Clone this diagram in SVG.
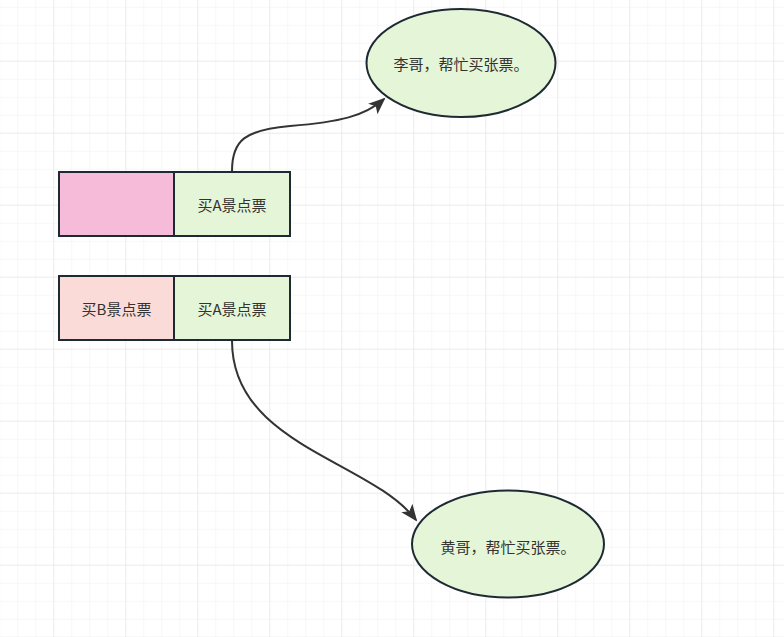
<svg xmlns="http://www.w3.org/2000/svg" width="784" height="637" viewBox="0 0 784 637">
<defs>
<pattern id="minor" x="17.3" y="6.7" width="18" height="18" patternUnits="userSpaceOnUse">
<path d="M0 0 V18 M0 0 H18" fill="none" stroke="#efefef" stroke-width="1"/>
</pattern>
<pattern id="major" x="53.3" y="60.7" width="72" height="72" patternUnits="userSpaceOnUse">
<path d="M0 0 V72 M0 0 H72" fill="none" stroke="#e2e2e2" stroke-width="1"/>
</pattern>
<marker id="arr" markerUnits="userSpaceOnUse" markerWidth="18" markerHeight="14" refX="15" refY="7" orient="auto" viewBox="0 0 18 14">
<path d="M0 0 L17 7 L0 14 L4 7 Z" fill="#333333"/>
</marker>
<style>
.box{stroke:#1e2a33;stroke-width:2}
.t{font-family:"Noto Sans CJK SC","Noto Sans",sans-serif;font-size:15px;fill:#333333;text-anchor:middle;dominant-baseline:central}
.edge{fill:none;stroke:#333333;stroke-width:2}
</style>
</defs>
<rect width="784" height="637" fill="#ffffff"/>
<rect width="784" height="637" fill="url(#minor)"/>
<rect width="784" height="637" fill="url(#major)"/>
<g id="connectors">
<path class="edge" d="M232 171 C232 140 245 130 290 126 C340 122 365 116 384 99" marker-end="url(#arr)"/>
<path class="edge" d="M232 341 C232 445 370 460 416 520" marker-end="url(#arr)"/>
</g>
<g id="node-pink">
<rect class="box" x="59" y="172" width="115" height="64" fill="#f5bbd9"/>
</g>
<g id="node-a1">
<rect class="box" x="174" y="172" width="116" height="64" fill="#e4f5d8"/>
<text class="t" x="232" y="204">买A景点票</text>
</g>
<g id="node-b">
<rect class="box" x="59" y="276" width="115" height="64" fill="#fadbd8"/>
<text class="t" x="116.5" y="308">买B景点票</text>
</g>
<g id="node-a2">
<rect class="box" x="174" y="276" width="116" height="64" fill="#e4f5d8"/>
<text class="t" x="232" y="308">买A景点票</text>
</g>
<g id="node-li">
<ellipse class="box" cx="461" cy="63" rx="94.5" ry="54" fill="#e4f5d8"/>
<text class="t" x="461" y="63">李哥，帮忙买张票。</text>
</g>
<g id="node-huang">
<ellipse class="box" cx="508" cy="544" rx="96" ry="53.5" fill="#e4f5d8"/>
<text class="t" x="508" y="546">黄哥，帮忙买张票。</text>
</g>
</svg>
